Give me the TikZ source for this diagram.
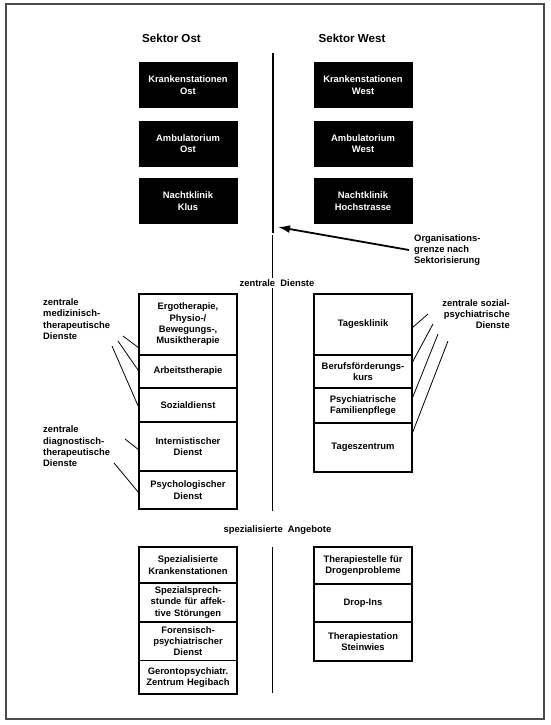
\documentclass[tikz,border=0pt]{standalone}
\usepackage{fontspec}
\setmainfont{Liberation Sans}
\usetikzlibrary{arrows.meta}

\begin{document}
\begin{tikzpicture}[x=1pt, y=-1pt,
	every node/.style={font=\fontsize{9.4}{11.3}\selectfont\bfseries},
	titel/.style={font=\fontsize{11.6}{14}\selectfont\bfseries},
	dunkelbox/.style={fill=black, text=white, minimum width=99, minimum height=46,
		text width=95, align=center, inner sep=0, anchor=north},
	dienstbox/.style={draw, line width=1.4, minimum width=98, text width=94,
		align=center, inner sep=0, outer sep=0, anchor=north},
	randtext/.style={inner sep=0},
	leitlinie/.style={line width=0.8},
	trennlinie/.style={line width=0.9},
	pfeil/.style={line width=1.8, -{Latex[length=12pt,width=8pt]}}]
	
	\useasboundingbox (0,0) rectangle (550,725);
	\draw[gray!60!black, line width=1.2] (6,4) rectangle (544,719);
	
	%--- Sektoren ---
	\node[titel] (ost) at (171.5,38) {Sektor Ost};
	\node[titel] (west) at (352,38) {Sektor West};
	
	\node[dunkelbox] (kranOst) at (188,62) {Krankenstationen\\Ost};
	\node[dunkelbox] (ambOst) at (188,120.5) {Ambulatorium\\Ost};
	\node[dunkelbox] (nachtOst) at (188,178) {Nachtklinik\\Klus};
	
	\node[dunkelbox] (kranWest) at (363,62) {Krankenstationen\\West};
	\node[dunkelbox] (ambWest) at (363,120.5) {Ambulatorium\\West};
	\node[dunkelbox] (nachtWest) at (363,178) {Nachtklinik\\Hochstrasse};
	
	% Organisationsgrenze
	\coordinate (grenzeOben) at (272.5,53);
	\coordinate (grenzeUnten) at (272.5,233);
	\draw[line width=2] (grenzeOben) -- (grenzeUnten);
	
	\node[randtext, anchor=west, align=left] (org) at (414,250)
	{Organisations-\\grenze nach\\Sektorisierung};
	\coordinate (pfeilspitze) at (278,227);
	\draw[pfeil] ([xshift=-5pt]org.west) -- (pfeilspitze);
	
	%--- zentrale Dienste ---
	\coordinate (mitteOben) at (272.5,235);
	\coordinate (mitteUnten) at (272.5,511);
	\draw[trennlinie] (mitteOben) -- (mitteUnten);
	\node[fill=white, inner sep=2] (zentral) at (277,283) {zentrale\ \ Dienste};
	
	\node[dienstbox, minimum height=61] (ergo) at (188,294)
	{Ergotherapie,\\Physio-/\\Bewegungs-,\\Musiktherapie};
	\node[dienstbox, minimum height=33] (arbeit) at (188,355) {Arbeitstherapie};
	\node[dienstbox, minimum height=34] (sozial) at (188,388) {Sozialdienst};
	\node[dienstbox, minimum height=49] (intern) at (188,422) {Internistischer\\Dienst};
	\node[dienstbox, minimum height=38] (psycho) at (188,471) {Psychologischer\\Dienst};
	
	\node[dienstbox, minimum height=61] (tagesk) at (363,294) {Tagesklinik};
	\node[dienstbox, minimum height=33] (beruf) at (363,355) {Berufsförderungs-\\kurs};
	\node[dienstbox, minimum height=35] (familie) at (363,388)
	{Psychiatrische\\Familienpflege};
	\node[dienstbox, minimum height=49] (tagesz) at (363,423) {Tageszentrum};
	
	% Beschriftungen links
	\node[randtext, anchor=west, align=left] (medizin) at (43,319)
	{zentrale\\medizinisch-\\therapeutische\\Dienste};
	\node[randtext, anchor=west, align=left] (diagnose) at (43,446.5)
	{zentrale\\diagnostisch-\\therapeutische\\Dienste};
	
	\coordinate (m1) at (123,336);
	\coordinate (m2) at (118,341);
	\coordinate (m3) at (112,346);
	\coordinate (d1) at (125,439);
	\coordinate (d2) at (114,463);
	\draw[leitlinie] (m1) -- ([yshift=7pt]ergo.south west);
	\draw[leitlinie] (m2) -- (arbeit.west);
	\draw[leitlinie] (m3) -- ([yshift=-3pt]sozial.west);
	\draw[leitlinie] (d1) -- ([yshift=-3.5pt]intern.west);
	\draw[leitlinie] (d2) -- ([yshift=-3pt]psycho.west);
	
	% Beschriftung rechts
	\node[randtext, anchor=east, align=right] (sozialpsych) at (510,314)
	{zentrale sozial-\\psychiatrische\\Dienste};
	
	\coordinate (s1) at (428,314);
	\coordinate (s2) at (433,324);
	\coordinate (s3) at (438,334);
	\coordinate (s4) at (448,341);
	\draw[leitlinie] (s1) -- ([yshift=-3.5pt]tagesk.east);
	\draw[leitlinie] (s2) -- ([yshift=8.5pt]beruf.east);
	\draw[leitlinie] (s3) -- ([yshift=6.5pt]familie.east);
	\draw[leitlinie] (s4) -- ([yshift=13.5pt]tagesz.east);
	
	%--- spezialisierte Angebote ---
	\node (spezial) at (277.5,530) {spezialisierte\ \ Angebote};
	\coordinate (untenOben) at (272.5,547);
	\coordinate (untenUnten) at (272.5,693);
	\draw[trennlinie] (untenOben) -- (untenUnten);
	
	\node[dienstbox, minimum height=36] (spezStat) at (188,547)
	{Spezialisierte\\Krankenstationen};
	\node[dienstbox, minimum height=39] (sprech) at (188,583)
	{Spezialsprech-\\stunde für affek-\\tive Störungen};
	\node[dienstbox, minimum height=38.5] (forens) at (188,622)
	{Forensisch-\\psychiatrischer\\Dienst};
	\node[dienstbox, minimum height=33.5] (geronto) at (188,660.5)
	{Gerontopsychiatr.\\Zentrum Hegibach};
	
	\node[dienstbox, minimum height=37] (drogen) at (363,547)
	{Therapiestelle für\\Drogenprobleme};
	\node[dienstbox, minimum height=38] (dropin) at (363,584) {Drop-Ins};
	\node[dienstbox, minimum height=39] (steinwies) at (363,622)
	{Therapiestation\\Steinwies};
	
\end{tikzpicture}
\end{document}
